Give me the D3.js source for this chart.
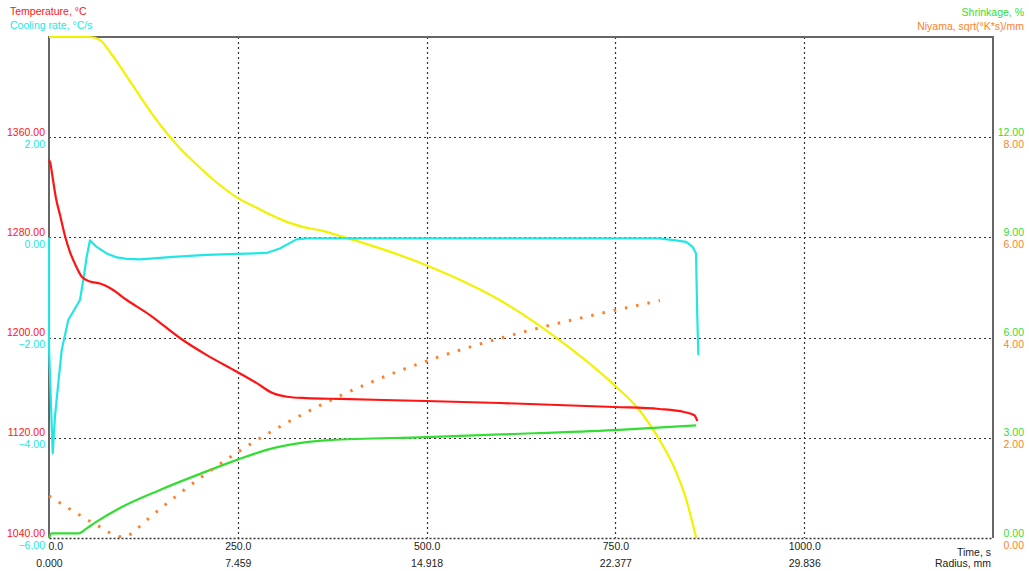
<!DOCTYPE html>
<html>
<head>
<meta charset="utf-8">
<script src="https://cdn.jsdelivr.net/npm/d3@7/dist/d3.min.js"></script>
<style>
  html, body { margin: 0; padding: 0; background: #fff; }
  svg { display: block; font-family: "Liberation Sans", Arial, sans-serif; }
</style>
</head>
<body>
<svg id="chart" width="1029" height="571"></svg>
<script>
// Time (s) / value pairs for each series
const temperature = [
  [0, 1342], [1.3, 1340.4], [5.3, 1325.8], [9.3, 1311.1], [14.6, 1297.9], [21.2, 1281.1],
  [27.8, 1268.3], [35.7, 1257.2], [43.7, 1248.4], [54.2, 1244.8], [67.5, 1243.2], [80.7, 1239.6],
  [103, 1230], [133.6, 1218], [173.3, 1199.7], [209, 1186], [248.7, 1172.8],
  [275, 1163.7], [296, 1155.7], [315, 1152.8], [341, 1151.7], [385, 1151],
  [499, 1149.4], [597, 1147.8], [749, 1144.6], [808, 1143], [841, 1140.6],
  [854.5, 1138], [858.5, 1133.4]
];

const coolingRate = [
  [0, 0.0], [0, -2.18], [4.9, -4.31], [7.9, -3.58], [12.3, -2.91], [16.8, -2.25],
  [25.5, -1.65], [41, -1.25], [45.4, -0.85], [49.9, -0.39], [54.2, -0.06],
  [63.1, -0.19], [76.3, -0.32], [90, -0.40], [102.8, -0.43], [120.4, -0.44],
  [164.4, -0.39], [208.6, -0.35], [248.3, -0.33], [288, -0.31], [305.6, -0.22],
  [327.7, -0.04], [340.9, -0.02], [596.6, -0.02], [808, -0.02], [830, -0.06],
  [843.6, -0.09], [852.3, -0.19], [856.8, -0.32], [858.1, -1.38], [859.8, -2.35]
];

const shrinkage = [
  [0, 0], [3.6, 0.14], [38.8, 0.14], [49.9, 0.29], [63.1, 0.49], [94, 0.9],
  [147, 1.44], [200, 1.92], [249, 2.34], [292, 2.66], [332, 2.84], [372, 2.93],
  [499, 3.02], [597, 3.10], [749, 3.23], [857, 3.37]
];

const niyama = [
  [0, 0.84], [70, 0.2], [90, 0.04], [100, 0.02], [112, 0.12], [125, 0.3], [809, 4.74]
];

// Liquid fraction, % (plotted on 0–100 over the full plot height)
const liquidFraction = [
  [0, 100], [54.2, 100], [67.5, 99.4], [80.7, 97.0], [93.9, 94.2], [107.1, 91.2],
  [120.4, 88.2], [137.6, 84.4], [156.1, 80.8], [173.3, 77.8], [195.8, 74.5], [216.9, 71.6],
  [248.7, 68.0], [275.1, 65.9], [296.3, 64.3], [314.8, 63.1], [336, 62.1], [362.4, 61.3],
  [384.9, 60.3], [411.4, 59.1], [498.7, 54.5], [596.6, 47.5], [675.9, 39.5], [748.7, 30.5],
  [781.8, 25.5], [808.2, 19.6], [828.1, 14.0], [843.9, 7.6], [857.1, 0]
];

// Tick values and labels
const timeTicks = [0, 250, 500, 750, 1000];
const radiusLabels = ["0.000", "7.459", "14.918", "22.377", "29.836"];
const temperatureTicks = [1040, 1120, 1200, 1280, 1360];
const coolingTicks = [-6, -4, -2, 0, 2];
const shrinkageTicks = [0, 3, 6, 9, 12];
const niyamaTicks = [0, 2, 4, 6, 8];

const colors = {
  temperature: "#ff1414",
  cooling: "#22e6e6",
  shrinkage: "#33dd33",
  niyama: "#ff7f2a",
  liquid: "#f2f200",
  grid: "#333",
  frame: "#666"
};

const svg = d3.select("#chart");
const plotLeft = 49, plotRight = 993, plotTop = 37, plotBottom = 538;

const x = d3.scaleLinear().domain([0, 1250]).range([plotLeft, plotRight]);
const yT = d3.scaleLinear().domain([1040, 1440]).range([plotBottom, plotTop]);
const yC = d3.scaleLinear().domain([-6, 4]).range([plotBottom, plotTop]);
const yS = d3.scaleLinear().domain([0, 15]).range([plotBottom, plotTop]);
const yN = d3.scaleLinear().domain([0, 10]).range([plotBottom, plotTop]);
const yF = d3.scaleLinear().domain([0, 100]).range([plotBottom, plotTop]);

// Grid
const grid = svg.append("g").attr("stroke", colors.grid).attr("stroke-width", 1.2)
  .attr("stroke-dasharray", "2,3");
grid.selectAll("line.h").data(temperatureTicks.slice(1)).join("line")
  .attr("x1", plotLeft).attr("x2", plotRight)
  .attr("y1", d => Math.round(yT(d)) + 0.5).attr("y2", d => Math.round(yT(d)) + 0.5);
grid.selectAll("line.v").data(timeTicks.filter(d => d > 0)).join("line")
  .attr("y1", plotTop).attr("y2", plotBottom)
  .attr("x1", d => Math.round(x(d)) + 0.5).attr("x2", d => Math.round(x(d)) + 0.5);

// Frame: left, top, right sides
svg.append("path")
  .attr("d", `M${plotLeft},${plotBottom}V${plotTop}H${plotRight}V${plotBottom}`)
  .attr("fill", "none").attr("stroke", colors.frame).attr("stroke-width", 2);

// Series
const plot = svg.append("g");
function drawLine(data, yScale, color, curve, extra) {
  const line = d3.line().x(d => x(d[0])).y(d => yScale(d[1])).curve(curve);
  const p = plot.append("path").datum(data).attr("d", line)
    .attr("fill", "none").attr("stroke", color).attr("stroke-width", 2.2)
    .attr("stroke-linejoin", "round");
  if (extra) extra(p);
  return p;
}

drawLine(liquidFraction, yF, colors.liquid, d3.curveMonotoneX);
drawLine(shrinkage, yS, colors.shrinkage, d3.curveMonotoneX);
drawLine(niyama, yN, colors.niyama, d3.curveMonotoneX, p =>
  p.attr("stroke-width", 3).attr("stroke-dasharray", "2.5,9"));
drawLine(coolingRate, yC, colors.cooling, d3.curveLinear);
drawLine(temperature, yT, colors.temperature, d3.curveMonotoneX);

// Axes text
const fontSize = 10.5;

function sideLabels(xPos, scale, ticks, color, dy) {
  const g = svg.append("g").attr("transform", `translate(${xPos},0)`)
    .call(d3.axisLeft(scale).tickValues(ticks).tickFormat(d3.format(".2f")).tickSize(0).tickPadding(0));
  g.select(".domain").remove();
  g.selectAll("text").attr("fill", color).attr("dy", dy)
    .attr("font-size", fontSize).attr("font-family", null);
}
sideLabels(plotLeft - 4, yT, temperatureTicks, colors.temperature, -2);
sideLabels(plotLeft - 4, yC, coolingTicks, colors.cooling, 10);
sideLabels(1024, yS, shrinkageTicks, colors.shrinkage, -2);
sideLabels(1024, yN, niyamaTicks, colors.niyama, 10);

// Bottom axis: time ticks and radius labels
const xAxis = svg.append("g").attr("transform", `translate(0,${plotBottom})`)
  .call(d3.axisBottom(x).tickValues(timeTicks).tickFormat(d3.format(".1f")).tickSize(0).tickPadding(0));
xAxis.select(".domain")
  .attr("stroke", colors.grid).attr("stroke-width", 1.4).attr("stroke-dasharray", "2,2");
xAxis.selectAll("text").attr("fill", "#222").attr("dy", 12)
  .attr("font-size", fontSize).attr("font-family", null);
// the first time label starts at the axis rather than centring on it
xAxis.selectAll("text").filter(d => d === 0).attr("text-anchor", "start").attr("x", -1);

const radiusAxis = svg.append("g").attr("transform", `translate(0,${plotBottom + 17})`)
  .call(d3.axisBottom(x).tickValues(timeTicks).tickFormat((d, i) => radiusLabels[i]).tickSize(0).tickPadding(0));
radiusAxis.select(".domain").remove();
radiusAxis.selectAll("text").attr("fill", "#222").attr("dy", 12)
  .attr("font-size", fontSize).attr("font-family", null);

// Axis titles
const titles = svg.append("g").attr("font-size", fontSize);
titles.append("text").attr("x", 10).attr("y", 15).attr("fill", colors.temperature).text("Temperature, °C");
titles.append("text").attr("x", 10).attr("y", 29).attr("fill", colors.cooling).text("Cooling rate, °C/s");
titles.append("text").attr("x", 1024).attr("y", 16).attr("text-anchor", "end").attr("fill", colors.shrinkage).text("Shrinkage, %");
titles.append("text").attr("x", 1024).attr("y", 30).attr("text-anchor", "end").attr("fill", colors.niyama).text("Niyama, sqrt(°K*s)/mm");
titles.append("text").attr("x", plotRight - 2).attr("y", 556).attr("text-anchor", "end").attr("fill", "#222").text("Time, s");
titles.append("text").attr("x", plotRight - 2).attr("y", 567).attr("text-anchor", "end").attr("fill", "#222").text("Radius, mm");
</script>
</body>
</html>
